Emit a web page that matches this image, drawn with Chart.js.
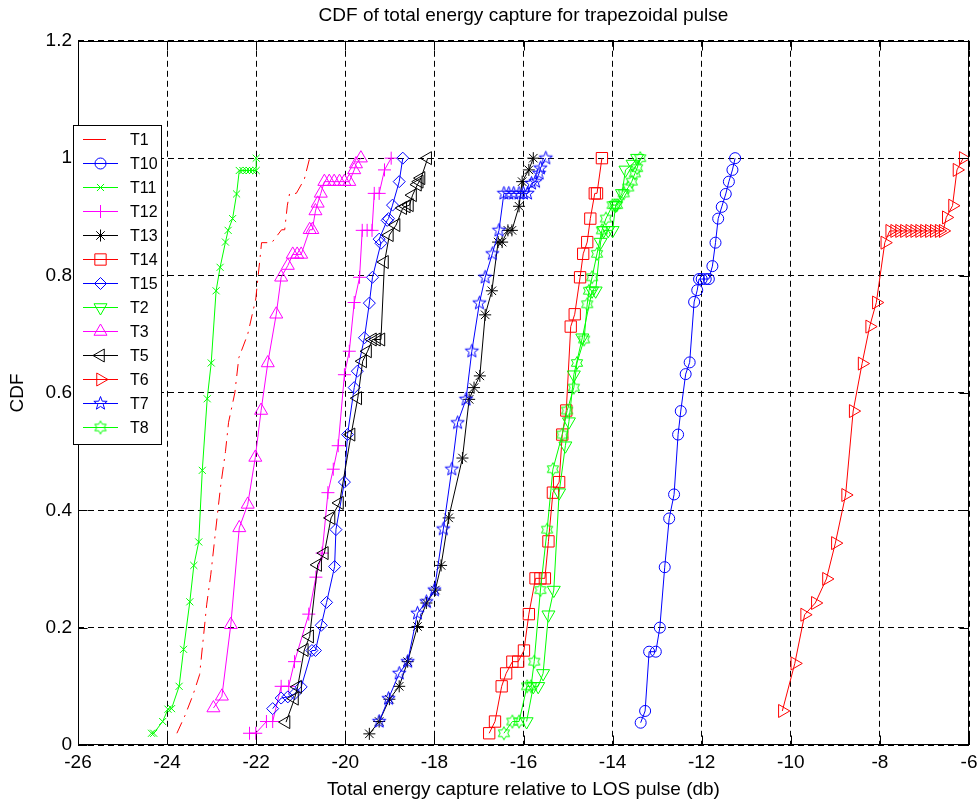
<!DOCTYPE html>
<html>
<head>
<meta charset="utf-8">
<script src="https://cdn.jsdelivr.net/npm/chart.js@4/dist/chart.umd.min.js"></script>
<style>
html,body{margin:0;padding:0;background:#fff;}
#wrap{width:978px;height:803px;position:relative;}
canvas{display:block;}
</style>
</head>
<body>
<div id="wrap"><canvas id="c" width="978" height="803"></canvas></div>
<script>
// ---------- data ----------
const titleText = 'CDF of total energy capture for trapezoidal pulse';
const xTitleText = 'Total energy capture relative to LOS pulse (db)';
const yTitleText = 'CDF';
const seriesNames = ['T1','T10','T11','T12','T13','T14','T15','T2','T3','T5','T6','T7','T8'];
const xTickValues = [-26,-24,-22,-20,-18,-16,-14,-12,-10,-8,-6];
const xTickLabels = ['-26','-24','-22','-20','-18','-16','-14','-12','-10','-8','-6'];
const yTickValues = [0,0.2,0.4,0.6,0.8,1,1.2];
const yTickLabels = ['0','0.2','0.4','0.6','0.8','1','1.2'];

const t1X = [-23.78,-23.60,-23.42,-23.27,-23.11,-23.02,-22.86,-22.80,-22.69,-22.62,-22.48,-22.39,-22.19,-22.01,-21.90,-21.88,-21.65,-21.43,-21.36,-21.30,-21.25,-21.10,-20.92,-20.80];
const t1Y = [0.02,0.05,0.085,0.12,0.24,0.29,0.40,0.44,0.50,0.55,0.60,0.66,0.70,0.76,0.84,0.856,0.856,0.878,0.878,0.92,0.94,0.94,0.964,1.0];

const t10X = [-13.37,-13.27,-13.18,-13.03,-12.94,-12.83,-12.73,-12.62,-12.53,-12.47,-12.36,-12.27,-12.17,-12.10,-12.06,-12.00,-11.91,-11.84,-11.76,-11.69,-11.63,-11.55,-11.46,-11.39,-11.31,-11.25];
const t10Y = [0.038,0.058,0.159,0.159,0.20,0.303,0.386,0.427,0.529,0.569,0.632,0.652,0.755,0.775,0.794,0.794,0.794,0.794,0.816,0.856,0.897,0.917,0.939,0.96,0.98,1.0];

const t11X = [-24.35,-24.30,-24.10,-23.98,-23.90,-23.73,-23.63,-23.49,-23.40,-23.29,-23.21,-23.10,-23.01,-22.90,-22.81,-22.69,-22.63,-22.53,-22.44,-22.38,-22.30,-22.22,-22.15,-22.08,-22.00,-22.00];
const t11Y = [0.02,0.02,0.04,0.061,0.062,0.10,0.163,0.244,0.306,0.346,0.468,0.59,0.651,0.774,0.814,0.857,0.877,0.897,0.939,0.979,0.979,0.979,0.979,0.979,0.979,1.0];

const t12X = [-22.15,-22.01,-21.77,-21.63,-21.44,-21.27,-21.14,-20.82,-20.66,-20.52,-20.39,-20.27,-20.16,-20.02,-19.91,-19.80,-19.68,-19.62,-19.51,-19.40,-19.35,-19.24,-19.12,-18.97];
const t12Y = [0.02,0.02,0.04,0.04,0.10,0.10,0.142,0.223,0.286,0.327,0.43,0.47,0.51,0.631,0.671,0.754,0.797,0.877,0.877,0.877,0.94,0.94,0.98,1.0];

const t13X = [-19.46,-19.24,-19.01,-18.79,-18.60,-18.38,-18.18,-17.98,-17.85,-17.68,-17.37,-17.22,-17.11,-16.98,-16.86,-16.71,-16.57,-16.48,-16.35,-16.26,-16.10,-16.03,-15.88,-15.78];
const t13Y = [0.019,0.04,0.078,0.10,0.142,0.202,0.242,0.264,0.306,0.387,0.489,0.589,0.609,0.629,0.733,0.774,0.857,0.857,0.877,0.877,0.918,0.96,0.98,1.0];

const t14X = [-16.77,-16.64,-16.49,-16.39,-16.25,-16.12,-15.99,-15.88,-15.73,-15.62,-15.52,-15.44,-15.34,-15.20,-15.13,-15.04,-14.94,-14.85,-14.73,-14.66,-14.57,-14.50,-14.40,-14.35,-14.24];
const t14Y = [0.02,0.04,0.10,0.122,0.142,0.142,0.161,0.223,0.284,0.284,0.284,0.347,0.43,0.448,0.529,0.57,0.713,0.734,0.797,0.837,0.857,0.897,0.94,0.94,1.0];

const t15X = [-21.63,-21.44,-21.29,-21.14,-20.99,-20.75,-20.67,-20.54,-20.42,-20.24,-20.21,-20.02,-19.95,-19.80,-19.73,-19.57,-19.46,-19.39,-19.20,-19.24,-19.06,-19.03,-18.94,-18.79,-18.71];
const t15Y = [0.062,0.08,0.082,0.087,0.099,0.161,0.161,0.204,0.243,0.304,0.367,0.448,0.529,0.609,0.637,0.694,0.753,0.797,0.855,0.862,0.894,0.897,0.92,0.96,1.0];

const t2X = [-15.93,-15.78,-15.67,-15.56,-15.44,-15.32,-15.20,-15.06,-14.98,-14.87,-14.68,-14.46,-14.38,-14.27,-14.20,-14.10,-14.00,-13.93,-13.79,-13.71,-13.55,-13.45];
const t2Y = [0.04,0.10,0.10,0.122,0.222,0.264,0.43,0.51,0.551,0.631,0.694,0.774,0.774,0.857,0.877,0.877,0.877,0.92,0.94,0.98,0.99,1.0];

const t3X = [-22.96,-22.77,-22.57,-22.38,-22.19,-22.02,-21.89,-21.74,-21.55,-21.44,-21.29,-21.18,-21.08,-20.99,-20.80,-20.74,-20.67,-20.62,-20.55,-20.47,-20.36,-20.25,-20.13,-20.02,-19.91,-19.80,-19.76,-19.65];
const t3Y = [0.063,0.083,0.205,0.37,0.41,0.49,0.57,0.651,0.734,0.797,0.817,0.836,0.836,0.836,0.878,0.878,0.91,0.923,0.94,0.96,0.96,0.96,0.96,0.96,0.96,0.98,0.99,1.0];

const t5X = [-21.33,-21.14,-21.07,-20.92,-20.80,-20.62,-20.47,-20.32,-20.13,-19.87,-19.72,-19.61,-19.50,-19.39,-19.30,-19.20,-19.12,-19.01,-18.86,-18.71,-18.63,-18.56,-18.49,-18.38,-18.34,-18.30,-18.15];
const t5Y = [0.039,0.079,0.099,0.162,0.185,0.307,0.327,0.387,0.4125,0.529,0.591,0.654,0.671,0.691,0.691,0.691,0.823,0.869,0.886,0.915,0.918,0.92,0.937,0.955,0.96,0.966,1.0];

const t6X = [-10.19,-9.91,-9.69,-9.45,-9.20,-9.00,-8.77,-8.60,-8.40,-8.23,-8.08,-7.89,-7.78,-7.67,-7.56,-7.45,-7.33,-7.22,-7.11,-7.00,-6.89,-6.78,-6.67,-6.58,-6.51,-6.37,-6.27,-6.13];
const t6Y = [0.058,0.139,0.222,0.242,0.283,0.344,0.426,0.569,0.65,0.713,0.754,0.856,0.876,0.876,0.876,0.876,0.876,0.876,0.876,0.876,0.876,0.876,0.876,0.876,0.899,0.919,0.98,1.0];

const t7X = [-19.24,-19.03,-18.79,-18.60,-18.38,-18.18,-18.00,-17.80,-17.61,-17.48,-17.29,-17.16,-16.99,-16.86,-16.70,-16.55,-16.44,-16.33,-16.22,-16.10,-16.00,-15.91,-15.82,-15.73,-15.65,-15.62,-15.50];
const t7Y = [0.04,0.079,0.122,0.142,0.2245,0.244,0.264,0.368,0.47,0.549,0.589,0.671,0.753,0.797,0.837,0.877,0.94,0.94,0.94,0.94,0.94,0.94,0.957,0.96,0.974,0.983,1.0];

const t8X = [-16.44,-16.25,-16.10,-15.92,-15.83,-15.76,-15.62,-15.47,-15.34,-15.13,-15.02,-14.87,-14.80,-14.64,-14.57,-14.53,-14.46,-14.35,-14.24,-14.15,-14.00,-13.95,-13.90,-13.75,-13.65,-13.57,-13.50,-13.45,-13.38];
const t8Y = [0.02,0.04,0.04,0.10,0.10,0.142,0.264,0.367,0.47,0.529,0.57,0.609,0.651,0.691,0.751,0.774,0.797,0.837,0.877,0.897,0.92,0.92,0.92,0.94,0.95,0.96,0.974,0.983,1.0];

// ---------- styles ----------
const FONT = '"Liberation Sans", Arial, Helvetica, sans-serif';
const FS = 19;       // axes / title text
const FS_LEG = 16;   // legend text

function starCanvas(n, outer, inner, color) {
  const size = Math.ceil(outer * 2 + 3);
  const c = document.createElement('canvas');
  c.width = size; c.height = size;
  const g = c.getContext('2d');
  g.strokeStyle = color; g.lineWidth = 1;
  g.beginPath();
  for (let i = 0; i < 2 * n; i++) {
    const r = (i % 2) ? inner : outer;
    const a = -Math.PI / 2 + i * Math.PI / n;
    const px = size / 2 + r * Math.cos(a), py = size / 2 + r * Math.sin(a);
    if (i === 0) g.moveTo(px, py); else g.lineTo(px, py);
  }
  g.closePath(); g.stroke();
  return c;
}
const pentagram = starCanvas(5, 7, 2.9, '#0000ff');
const hexagram = starCanvas(6, 6.5, 3.75, '#00ff00');

const seriesStyle = {
  T1:  {color:'#ff0000', style:'circle',   r:0,   rot:0,   dash:[12,6,2,6], legendDash:[23,40]},
  T10: {color:'#0000ff', style:'circle',   r:5.5, rot:0},
  T11: {color:'#00ff00', style:'crossRot', r:5,   rot:0},
  T12: {color:'#ff00ff', style:'cross',    r:6.5, rot:0},
  T13: {color:'#000000', style:'star',     r:6,   rot:0},
  T14: {color:'#ff0000', style:'rect',     r:8,   rot:0},
  T15: {color:'#0000ff', style:'rectRot',  r:6,   rot:0},
  T2:  {color:'#00ff00', style:'triangle', r:7.5, rot:180},
  T3:  {color:'#ff00ff', style:'triangle', r:7.5, rot:0},
  T5:  {color:'#000000', style:'triangle', r:7.5, rot:270},
  T6:  {color:'#ff0000', style:'triangle', r:7.5, rot:90},
  T7:  {color:'#0000ff', style:pentagram,  r:7,   rot:0},
  T8:  {color:'#00ff00', style:hexagram,   r:6.5, rot:0}
};
const seriesData = {
  T1:[t1X,t1Y], T10:[t10X,t10Y], T11:[t11X,t11Y], T12:[t12X,t12Y], T13:[t13X,t13Y],
  T14:[t14X,t14Y], T15:[t15X,t15Y], T2:[t2X,t2Y], T3:[t3X,t3Y], T5:[t5X,t5Y],
  T6:[t6X,t6Y], T7:[t7X,t7Y], T8:[t8X,t8Y]
};

const datasets = seriesNames.map((name, i) => {
  const s = seriesStyle[name];
  const [xs, ys] = seriesData[name];
  return {
    label: name,
    data: xs.map((x, k) => ({x: x, y: ys[k]})),
    showLine: true,
    borderColor: s.color,
    backgroundColor: 'rgba(0,0,0,0)',
    borderWidth: 1,
    borderDash: s.dash || [],
    tension: 0,
    fill: false,
    pointStyle: s.style,
    pointRadius: s.r,
    pointRotation: s.rot,
    pointBorderColor: s.color,
    pointBackgroundColor: 'rgba(0,0,0,0)',
    pointBorderWidth: 1,
    pointHoverRadius: s.r,
    order: seriesNames.length - i
  };
});

// ---------- plugins ----------
function drawMarker(ctx, style, r, rot, x, y) {
  if (typeof style === 'object') {
    ctx.drawImage(style, x - style.width / 2, y - style.height / 2);
    return;
  }
  if (r <= 0) return;
  const rad = rot * Math.PI / 180;
  ctx.beginPath();
  switch (style) {
    case 'circle': ctx.arc(x, y, r, 0, Math.PI * 2); break;
    case 'triangle': {
      let a = rad;
      ctx.moveTo(x + Math.sin(a) * r, y - Math.cos(a) * r);
      a += 2 * Math.PI / 3; ctx.lineTo(x + Math.sin(a) * r, y - Math.cos(a) * r);
      a += 2 * Math.PI / 3; ctx.lineTo(x + Math.sin(a) * r, y - Math.cos(a) * r);
      ctx.closePath(); break;
    }
    case 'rect': { const s = r * Math.SQRT1_2; ctx.rect(x - s, y - s, 2 * s, 2 * s); break; }
    case 'rectRot':
      ctx.moveTo(x - r, y); ctx.lineTo(x, y - r); ctx.lineTo(x + r, y); ctx.lineTo(x, y + r); ctx.closePath(); break;
    case 'cross':
      ctx.moveTo(x - r, y); ctx.lineTo(x + r, y); ctx.moveTo(x, y - r); ctx.lineTo(x, y + r); break;
    case 'crossRot': { const d = r * Math.SQRT1_2;
      ctx.moveTo(x - d, y - d); ctx.lineTo(x + d, y + d); ctx.moveTo(x + d, y - d); ctx.lineTo(x - d, y + d); break; }
    case 'star': { const d = r * Math.SQRT1_2;
      ctx.moveTo(x - r, y); ctx.lineTo(x + r, y); ctx.moveTo(x, y - r); ctx.lineTo(x, y + r);
      ctx.moveTo(x - d, y - d); ctx.lineTo(x + d, y + d); ctx.moveTo(x + d, y - d); ctx.lineTo(x - d, y + d); break; }
  }
  ctx.stroke();
}

const framePlugin = {
  id: 'frame',
  afterDatasetsDraw(chart) {
    const {ctx, chartArea: a, scales} = chart;
    const L = Math.round(a.left) + 0.5, R = Math.round(a.right) - 0.5;
    const T = Math.round(a.top) + 0.5, B = Math.round(a.bottom) - 0.5;
    ctx.save();
    ctx.strokeStyle = '#000'; ctx.lineWidth = 1; ctx.setLineDash([]);
    ctx.strokeRect(L, T, R - L, B - T);
    const tl = 9;
    ctx.beginPath();
    xTickValues.forEach(v => {
      const px = Math.round(scales.x.getPixelForValue(v)) + 0.5;
      ctx.moveTo(px, B); ctx.lineTo(px, B - tl);
      ctx.moveTo(px, T); ctx.lineTo(px, T + tl);
    });
    yTickValues.forEach(v => {
      const py = Math.round(scales.y.getPixelForValue(v)) + 0.5;
      ctx.moveTo(L, py); ctx.lineTo(L + tl, py);
      ctx.moveTo(R, py); ctx.lineTo(R - tl, py);
    });
    ctx.stroke();
    ctx.restore();
  }
};

const legendPlugin = {
  id: 'mlegend',
  afterDraw(chart) {
    const ctx = chart.ctx;
    const bx = 73, by = 125, bw = 88, bh = 319;
    ctx.save();
    ctx.fillStyle = '#fff';
    ctx.fillRect(bx, by, bw, bh);
    ctx.strokeStyle = '#000'; ctx.lineWidth = 1; ctx.setLineDash([]);
    ctx.strokeRect(bx + 0.5, by + 0.5, bw, bh);
    ctx.font = FS_LEG + 'px ' + FONT;
    ctx.textBaseline = 'middle';
    ctx.textAlign = 'left';
    chart.data.datasets.forEach((ds, i) => {
      const st = seriesStyle[ds.label];
      const cy = Math.round(139 + i * 24.03) + 0.5;
      ctx.strokeStyle = ds.borderColor;
      ctx.lineWidth = 1;
      ctx.setLineDash(st.legendDash || ds.borderDash || []);
      ctx.beginPath(); ctx.moveTo(83, cy); ctx.lineTo(118, cy); ctx.stroke();
      ctx.setLineDash([]);
      drawMarker(ctx, ds.pointStyle, ds.pointRadius, ds.pointRotation, 100.5, cy);
      ctx.fillStyle = '#000';
      ctx.fillText(ds.label, 130, cy + 1);
    });
    ctx.restore();
  }
};

// ---------- chart ----------
Chart.defaults.color = '#000';
Chart.defaults.font.family = FONT;

new Chart(document.getElementById('c'), {
  type: 'scatter',
  data: { datasets: datasets },
  options: {
    responsive: false,
    maintainAspectRatio: false,
    animation: false,
    devicePixelRatio: 1,
    events: [],
    layout: { padding: { left: 0, right: 7, top: 0, bottom: 0 } },
    plugins: {
      legend: { display: false },
      tooltip: { enabled: false },
      title: {
        display: true, text: titleText, fullSize: false, color: '#000',
        font: { family: FONT, size: FS, weight: 'normal' },
        padding: { top: 4, bottom: 14 }
      }
    },
    scales: {
      x: {
        type: 'linear', position: 'bottom', min: -26, max: -6,
        afterBuildTicks: s => { s.ticks = xTickValues.map(v => ({ value: v })); },
        afterFit: s => { s.height = 58; s.paddingLeft = 0; s.paddingRight = 0; },
        ticks: {
          callback: (v, i) => xTickLabels[i], padding: 6, color: '#000',
          font: { family: FONT, size: FS }, maxRotation: 0, autoSkip: false
        },
        grid: { color: '#000', lineWidth: 1, drawTicks: false },
        border: { display: false, dash: [6, 4] },
        title: {
          display: true, text: xTitleText, color: '#000',
          font: { family: FONT, size: FS }, padding: { top: 0, bottom: 2 }
        }
      },
      y: {
        type: 'linear', position: 'left', min: 0, max: 1.2,
        afterBuildTicks: s => { s.ticks = yTickValues.map(v => ({ value: v })); },
        afterFit: s => { s.width = 78; s.paddingTop = 0; s.paddingBottom = 0; },
        ticks: {
          callback: (v, i) => yTickLabels[i], padding: 6, color: '#000',
          font: { family: FONT, size: FS }, autoSkip: false
        },
        grid: { color: '#000', lineWidth: 1, drawTicks: false },
        border: { display: false, dash: [6, 4] },
        title: {
          display: true, text: yTitleText, color: '#000',
          font: { family: FONT, size: FS }, padding: { top: 6, bottom: 0 }
        }
      }
    }
  },
  plugins: [framePlugin, legendPlugin]
});
</script>
</body>
</html>
